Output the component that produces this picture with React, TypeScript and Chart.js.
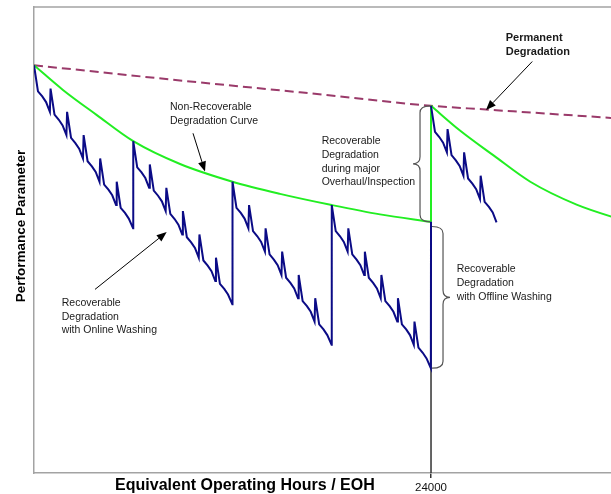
import React, { useEffect, useRef } from "react";
import { Chart, registerables } from "chart.js";

Chart.register(...registerables);

const FONT = "'Liberation Sans', Arial, Helvetica, sans-serif";

// ---- axis ranges / ticks ----
const X_MAX = 34880;
const tickHours = [24000];

// ---- Online-washing sawtooth (blue), big cycles of 6000 EOH ----
const cycle1Hours = [0, 240, 500, 730, 960, 1000, 1240, 1500, 1730, 1960, 2000, 2240, 2500, 2730, 2960, 3000, 3240, 3500, 3730, 3960, 4000, 4240, 4500, 4730, 4960, 5000, 5240, 5500, 5730, 5990];
const cycle1Values = [87.5, 81.9, 80.8, 79.6, 77.5, 82.5, 76.9, 75.8, 74.6, 72.5, 77.5, 71.9, 70.8, 69.6, 67.5, 72.5, 66.9, 65.8, 64.6, 62.5, 67.5, 61.9, 60.8, 59.6, 57.5, 62.5, 56.9, 55.8, 54.6, 52.5];

const cycle2Hours = [6000, 6240, 6500, 6730, 6960, 7000, 7240, 7500, 7730, 7960, 8000, 8240, 8500, 8730, 8960, 9000, 9240, 9500, 9730, 9960, 10000, 10240, 10500, 10730, 10960, 11000, 11240, 11500, 11730, 11990];
const cycle2Values = [71.2, 65.6, 64.5, 63.3, 61.2, 66.2, 60.6, 59.5, 58.3, 56.2, 61.2, 55.6, 54.5, 53.3, 51.2, 56.2, 50.6, 49.5, 48.3, 46.2, 51.2, 45.6, 44.5, 43.3, 41.2, 46.2, 40.6, 39.5, 38.3, 36.2];

const cycle3Hours = [12000, 12240, 12500, 12730, 12960, 13000, 13240, 13500, 13730, 13960, 14000, 14240, 14500, 14730, 14960, 15000, 15240, 15500, 15730, 15960, 16000, 16240, 16500, 16730, 16960, 17000, 17240, 17500, 17730, 17990];
const cycle3Values = [62.5, 56.9, 55.8, 54.6, 52.5, 57.5, 51.9, 50.8, 49.6, 47.5, 52.5, 46.9, 45.8, 44.6, 42.5, 47.5, 41.9, 40.8, 39.6, 37.5, 42.5, 36.9, 35.8, 34.6, 32.5, 37.5, 31.9, 30.8, 29.6, 27.5];

const cycle4Hours = [18000, 18240, 18500, 18730, 18960, 19000, 19240, 19500, 19730, 19960, 20000, 20240, 20500, 20730, 20960, 21000, 21240, 21500, 21730, 21960, 22000, 22240, 22500, 22730, 22960, 23000, 23240, 23500, 23730, 23990, 24000];
const cycle4Values = [57.5, 51.9, 50.8, 49.6, 47.5, 52.5, 46.9, 45.8, 44.6, 42.5, 47.5, 41.9, 40.8, 39.6, 37.5, 42.5, 36.9, 35.8, 34.6, 32.5, 37.5, 31.9, 30.8, 29.6, 27.5, 32.5, 26.9, 25.8, 24.6, 22.5, 53.9];

const cycle5Hours = [24000, 24240, 24500, 24730, 24960, 25000, 25240, 25500, 25730, 25960, 26000, 26240, 26500, 26730, 26960, 27000, 27240, 27500, 27730, 27960];
const cycle5Values = [78.8, 73.2, 72.1, 70.9, 68.8, 73.8, 68.2, 67.1, 65.9, 63.8, 68.8, 63.2, 62.1, 60.9, 58.8, 63.8, 58.2, 57.1, 55.9, 53.8];

// ---- Non-recoverable degradation curve (green) ----
const greenLeftHours = [0, 1750, 3800, 6000, 8830, 12000, 14870, 18000, 20920, 24000];
const greenLeftValues = [87.5, 82.2, 76.8, 71.2, 66.3, 62.5, 59.9, 57.5, 55.5, 53.9];
const greenJumpHours = [24000, 24000];
const greenJumpValues = [53.9, 78.8];
const greenRightHours = [24000, 25750, 27800, 30000, 32800, 36000];
const greenRightValues = [78.8, 73.5, 68.1, 62.5, 57.6, 53.8];

// ---- Permanent degradation (dashed) ----
const permanentHours = [0, 10035, 16080, 24000, 27325, 34880];
const permanentValues = [87.5, 83.8, 81.7, 78.8, 78.0, 76.2];

// ---- Overhaul marker line ----
const overhaulHours = [24000, 24000];
const overhaulValues = [53.9, 0];

// ---- Annotations (data coordinates) ----
const noteLines1 = ["Non-Recoverable", "Degradation Curve"];
const noteLines2 = ["Recoverable", "Degradation", "with Online Washing"];
const noteLines3 = ["Recoverable", "Degradation", "during major", "Overhaul/Inspection"];
const noteLines4 = ["Recoverable", "Degradation", "with Offline Washing"];
const noteLines5 = ["Permanent", "Degradation"];
const notes = [
  { lines: noteLines1, hours: 8220, value: 78.5, bold: false },
  { lines: noteLines2, hours: 1675, value: 36.5, bold: false },
  { lines: noteLines3, hours: 17390, value: 71.2, bold: false },
  { lines: noteLines4, hours: 25550, value: 43.7, bold: false },
  { lines: noteLines5, hours: 28515, value: 93.3, bold: true },
];
const arrows = [
  { from: [30120, 88.3], to: [27323, 77.9] },
  { from: [9612, 72.9], to: [10337, 64.7] },
  { from: [3687, 39.4], to: [8022, 51.7] },
];
const braces = [
  { hours: 24000, top: 78.8, bottom: 53.9, dir: -1 },
  { hours: 24000, top: 52.9, bottom: 22.5, dir: 1 },
];
const xTitle = "Equivalent Operating Hours / EOH";
const yTitle = "Performance Parameter";
const xTitleCenterHours = 12750;
const yTitleCenterValue = 53.0;

const AXIS_COLOR = "#a3a3a3";
const TEXT_COLOR = "#1a1a1a";

const pts = (xs: number[], ys: number[]) => xs.map((x, i) => ({ x, y: ys[i] }));

const drawBrace = (ctx: CanvasRenderingContext2D, xEdge: number, yTop: number, yBottom: number, dir: number) => {
  const spine = dir < 0 ? 10 : 11;
  const tip = dir < 0 ? 17 : 18;
  const r = 7;
  const xs = xEdge + dir * spine;
  const xt = xEdge + dir * tip;
  const ym = (yTop + yBottom) / 2;
  ctx.beginPath();
  ctx.moveTo(xEdge, yTop);
  ctx.quadraticCurveTo(xs, yTop, xs, yTop + r);
  ctx.lineTo(xs, ym - r);
  ctx.quadraticCurveTo(xs, ym, xt, ym);
  ctx.quadraticCurveTo(xs, ym, xs, ym + r);
  ctx.lineTo(xs, yBottom - r);
  ctx.quadraticCurveTo(xs, yBottom, xEdge, yBottom);
  ctx.stroke();
};

const overlayPlugin = {
  id: "overlay",
  beforeDatasetsDraw(chart: any) {
    const { ctx, chartArea } = chart;
    ctx.save();
    ctx.strokeStyle = AXIS_COLOR;
    ctx.lineWidth = 1.5;
    ctx.beginPath();
    ctx.moveTo(chartArea.left, chartArea.top);
    ctx.lineTo(chartArea.right + 2, chartArea.top);
    ctx.stroke();
    ctx.restore();
  },
  afterDraw(chart: any) {
    const { ctx } = chart;
    const xs = chart.scales.x;
    const ys = chart.scales.y;
    ctx.save();
    // notes
    ctx.fillStyle = TEXT_COLOR;
    ctx.textBaseline = "middle";
    ctx.textAlign = "left";
    notes.forEach((n) => {
      ctx.font = `${n.bold ? "bold 11px" : "10.5px"} ${FONT}`;
      const px = xs.getPixelForValue(n.hours);
      const py = ys.getPixelForValue(n.value);
      n.lines.forEach((l, i) => ctx.fillText(l, px, py + i * 13.8));
    });
    // arrows
    ctx.strokeStyle = "#000";
    ctx.fillStyle = "#000";
    ctx.lineWidth = 1;
    arrows.forEach((a) => {
      const x1 = xs.getPixelForValue(a.from[0]);
      const y1 = ys.getPixelForValue(a.from[1]);
      const x2 = xs.getPixelForValue(a.to[0]);
      const y2 = ys.getPixelForValue(a.to[1]);
      const ang = Math.atan2(y2 - y1, x2 - x1);
      const hl = 10;
      const hw = 4;
      const bx = x2 - hl * Math.cos(ang);
      const by = y2 - hl * Math.sin(ang);
      ctx.beginPath();
      ctx.moveTo(x1, y1);
      ctx.lineTo(bx, by);
      ctx.stroke();
      ctx.beginPath();
      ctx.moveTo(x2, y2);
      ctx.lineTo(bx + hw * Math.sin(ang), by - hw * Math.cos(ang));
      ctx.lineTo(bx - hw * Math.sin(ang), by + hw * Math.cos(ang));
      ctx.closePath();
      ctx.fill();
    });
    // braces
    ctx.strokeStyle = "#555";
    ctx.lineWidth = 1.2;
    braces.forEach((b) => {
      const px = xs.getPixelForValue(b.hours) + b.dir;
      drawBrace(ctx, px, ys.getPixelForValue(b.top), ys.getPixelForValue(b.bottom), b.dir);
    });
    // axis titles
    ctx.fillStyle = "#000";
    ctx.textAlign = "center";
    ctx.textBaseline = "middle";
    ctx.font = `bold 16px ${FONT}`;
    ctx.fillText(xTitle, xs.getPixelForValue(xTitleCenterHours), chart.height - 8);
    ctx.translate(21, ys.getPixelForValue(yTitleCenterValue));
    ctx.rotate(-Math.PI / 2);
    ctx.font = `bold 13.5px ${FONT}`;
    ctx.fillText(yTitle, 0, 0);
    ctx.restore();
  },
};

export default function App() {
  const canvasRef = useRef<HTMLCanvasElement | null>(null);

  useEffect(() => {
    if (!canvasRef.current) return;
    const line = (data: any[], color: string, width: number, extra: any = {}) => ({
      data,
      borderColor: color,
      backgroundColor: color,
      borderWidth: width,
      pointRadius: 0,
      fill: false,
      tension: 0,
      ...extra,
    });
    const chart = new Chart(canvasRef.current, {
      type: "line",
      data: {
        datasets: [
          line(pts([...cycle1Hours, ...cycle2Hours, ...cycle3Hours, ...cycle4Hours], [...cycle1Values, ...cycle2Values, ...cycle3Values, ...cycle4Values]), "#0b0b86", 2),
          line(pts(cycle5Hours, cycle5Values), "#0b0b86", 2),
          line(pts(greenLeftHours, greenLeftValues), "#22ee22", 2, { cubicInterpolationMode: "monotone" }),
          line(pts(greenJumpHours, greenJumpValues), "#22ee22", 2),
          line(pts(greenRightHours, greenRightValues), "#22ee22", 2, { cubicInterpolationMode: "monotone" }),
          line(pts(permanentHours, permanentValues), "#9a3a6a", 2, { cubicInterpolationMode: "monotone", borderDash: [9, 5] }),
          line(pts(overhaulHours, overhaulValues), "#333333", 1.5),
        ],
      },
      options: {
        animation: false,
        responsive: true,
        maintainAspectRatio: false,
        parsing: false as any,
        layout: { padding: { top: 7, right: 0, left: 0, bottom: 0 } },
        plugins: { legend: { display: false }, tooltip: { enabled: false }, title: { display: false } },
        scales: {
          x: {
            type: "linear",
            min: 0,
            max: X_MAX,
            border: { display: true, color: AXIS_COLOR, width: 1.5 },
            grid: { display: true, drawOnChartArea: false, drawTicks: true, tickLength: 5, color: "#333", lineWidth: 1.5 },
            afterBuildTicks: (scale: any) => {
              scale.ticks = tickHours.map((v) => ({ value: v }));
            },
            ticks: {
              autoSkip: false,
              maxRotation: 0,
              color: "#111",
              font: { family: FONT, size: 11.5 },
              padding: 3,
              callback: (v: any) => String(v),
            },
            afterFit: (scale: any) => {
              scale.height = 21;
            },
          },
          y: {
            type: "linear",
            min: 0,
            max: 100,
            border: { display: true, color: AXIS_COLOR, width: 1.5 },
            grid: { display: false, drawOnChartArea: false, drawTicks: false },
            ticks: { display: false },
            afterFit: (scale: any) => {
              scale.width = 34;
            },
          },
        },
      },
      plugins: [overlayPlugin],
    } as any);
    return () => chart.destroy();
  }, []);

  return (
    <div style={{ position: "fixed", left: 0, top: 0, width: 611, height: 494, background: "#fff" }}>
      <canvas ref={canvasRef} />
    </div>
  );
}
